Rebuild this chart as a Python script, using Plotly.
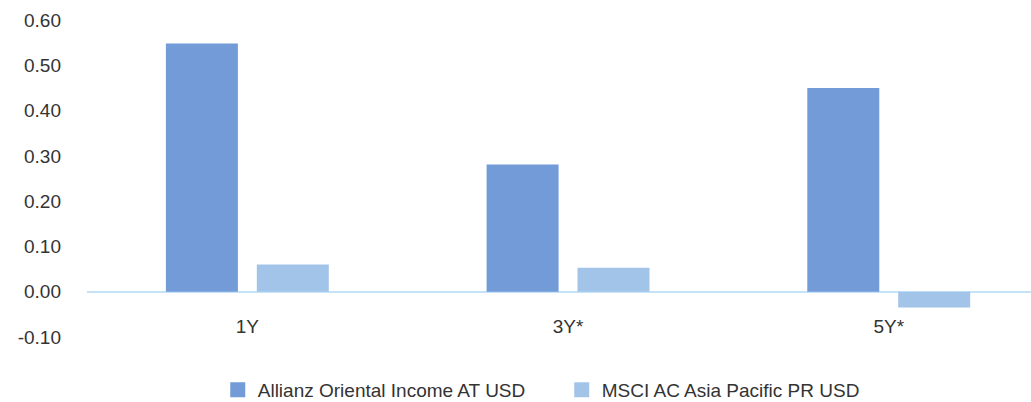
import plotly.graph_objects as go

# Periods and annualised returns for the fund and its benchmark
categories = ["1Y", "3Y*", "5Y*"]
fund_name = "Allianz Oriental Income AT USD"
bench_name = "MSCI AC Asia Pacific PR USD"
fund_values = [0.548, 0.281, 0.450]
bench_values = [0.060, 0.053, -0.035]
y_ticks = [-0.10, 0.00, 0.10, 0.20, 0.30, 0.40, 0.50, 0.60]
y_tick_labels = ["-0.10", "0.00", "0.10", "0.20", "0.30", "0.40", "0.50", "0.60"]

FUND_COLOR = "#729BD8"
BENCH_COLOR = "#A3C4E9"
TEXT_COLOR = "#333333"
FONT = "Liberation Sans, Arial, sans-serif"
FONT_SIZE = 19

y_min, y_max = -0.10, 0.60
bar_w = 0.2245
gap = 0.059

fig = go.Figure()
fig.add_trace(go.Bar(
    x=categories, y=fund_values, name=fund_name, showlegend=False,
    marker=dict(color=FUND_COLOR, line=dict(width=0)),
    width=bar_w, offset=-gap / 2 - bar_w,
))
fig.add_trace(go.Bar(
    x=categories, y=bench_values, name=bench_name, showlegend=False,
    marker=dict(color=BENCH_COLOR, line=dict(width=0)),
    width=bar_w, offset=gap / 2,
))

# Legend keys: larger square swatches than the default bar icon
for name, color in [(fund_name, FUND_COLOR), (bench_name, BENCH_COLOR)]:
    fig.add_trace(go.Scatter(
        x=[None], y=[None], mode="markers", name=name,
        marker=dict(symbol="square", size=15, color=color, line=dict(width=0)),
    ))

fig.update_layout(
    width=1031, height=402,
    margin=dict(l=87, r=0, t=20, b=65, autoexpand=False),
    paper_bgcolor="white", plot_bgcolor="white",
    barmode="overlay",
    font=dict(family=FONT, size=FONT_SIZE, color=TEXT_COLOR),
    showlegend=True,
    legend=dict(
        orientation="h", x=0.1385, xanchor="left",
        yref="container", y=0.03, yanchor="middle",
        font=dict(family=FONT, size=FONT_SIZE, color=TEXT_COLOR),
        entrywidth=299, itemsizing="trace",
        traceorder="normal",
    ),
    xaxis=dict(
        range=[-0.5, 2.4436], showgrid=False, showline=False, zeroline=False,
        anchor="free", position=(0 - y_min) / (y_max - y_min),
        ticks="", ticklabelstandoff=21,
        tickfont=dict(size=FONT_SIZE, color=TEXT_COLOR),
    ),
    yaxis=dict(
        range=[y_min, y_max], tickvals=y_ticks, ticktext=y_tick_labels,
        showgrid=False, showline=False,
        zeroline=True, zerolinecolor="#C5E3F8", zerolinewidth=2,
        ticks="", ticklabelstandoff=25,
        tickfont=dict(size=FONT_SIZE, color=TEXT_COLOR),
    ),
)

fig.write_html("out.html")
